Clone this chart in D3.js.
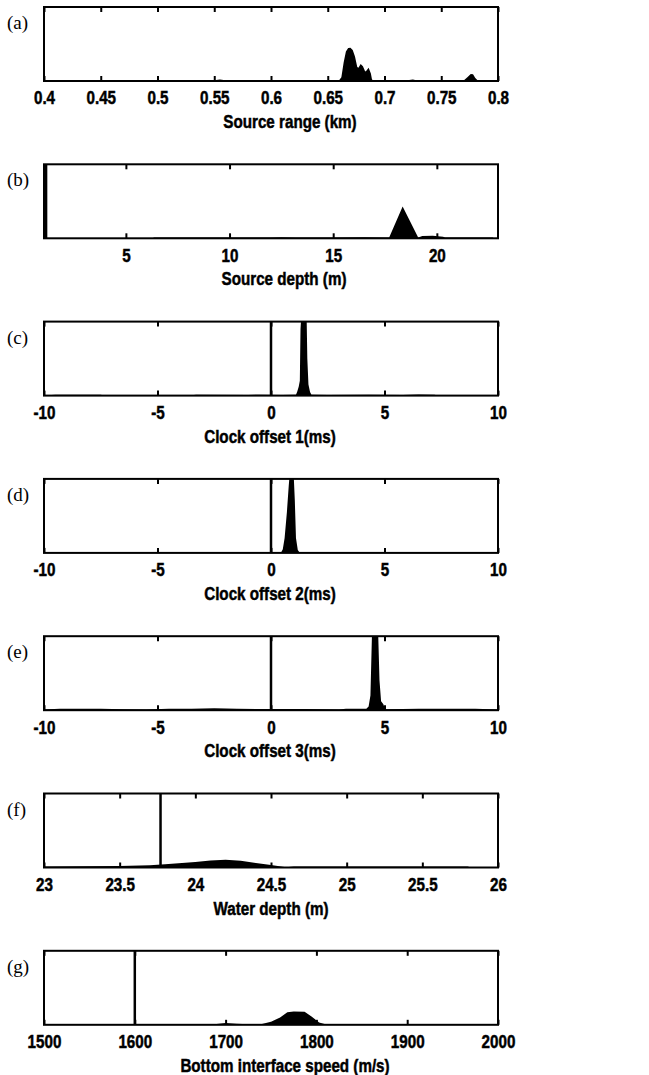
<!DOCTYPE html>
<html>
<head>
<meta charset="utf-8">
<script src="https://cdn.jsdelivr.net/npm/d3@7"></script>
<style>
  body { margin: 0; background: #fff; }
  .tick text { font-family: "Liberation Sans", Arial, sans-serif; font-weight: bold; font-size: 19px; fill: #000; stroke: #000; stroke-width: 0.5px; }
  .title { font-family: "Liberation Sans", Arial, sans-serif; font-weight: bold; font-size: 19px; stroke: #000; stroke-width: 0.5px; }
  .tag { font-family: "Liberation Serif", serif; font-size: 19px; }
</style>
</head>
<body>
<svg id="chart" width="649" height="1075"></svg>
<script>
// posterior densities (normalised, 1 = top of the box)

const tags = ["(a)", "(b)", "(c)", "(d)", "(e)", "(f)", "(g)"];
const titles = ["Source range (km)", "Source depth (m)", "Clock offset 1(ms)", "Clock offset 2(ms)",
                "Clock offset 3(ms)", "Water depth (m)", "Bottom interface speed (m/s)"];

const domains = [[0.4, 0.8], [1.05, 22.95], [-10, 10], [-10, 10], [-10, 10], [23, 26], [1500, 2000]];
const tickVals = [
  [0.4, 0.45, 0.5, 0.55, 0.6, 0.65, 0.7, 0.75, 0.8],
  [5, 10, 15, 20],
  [-10, -5, 0, 5, 10],
  [-10, -5, 0, 5, 10],
  [-10, -5, 0, 5, 10],
  [23, 23.5, 24, 24.5, 25, 25.5, 26],
  [1500, 1600, 1700, 1800, 1900, 2000]
];
// true values (vertical lines), null where none
const markers = [null, 1.15, 0, 0, 0, 23.77, 1600];

const rangeX = [0.50, 0.505, 0.52, 0.53, 0.55, 0.555, 0.56, 0.565, 0.60, 0.62, 0.64, 0.650, 0.655, 0.660, 0.662, 0.664, 0.666, 0.668, 0.670, 0.672, 0.674, 0.676, 0.677, 0.679, 0.681, 0.683, 0.684, 0.686, 0.688, 0.689, 0.690, 0.695, 0.72, 0.725, 0.728, 0.73, 0.77, 0.773, 0.776, 0.778, 0.780, 0.782, 0.79, 0.80];
const rangeP = [0, 0.01, 0.01, 0.015, 0.01, 0.02, 0.01, 0.015, 0.01, 0.012, 0.01, 0.015, 0.01, 0.01, 0.05, 0.25, 0.40, 0.445, 0.45, 0.42, 0.33, 0.19, 0.18, 0.23, 0.2, 0.13, 0.14, 0.18, 0.1, 0.02, 0.01, 0.01, 0.01, 0.02, 0.01, 0.01, 0.01, 0.05, 0.094, 0.09, 0.04, 0.01, 0.01, 0.01];

const depthX = [1.05, 6.3, 6.35, 10, 12, 12.5, 13.2, 15, 16.5, 17.5, 17.7, 18.35, 19.1, 19.3, 19.8, 20.3, 20.4, 22.7, 22.75];
const depthP = [0, 0, 0.012, 0.012, 0.01, 0.015, 0.01, 0.012, 0.015, 0.012, 0.01, 0.43, 0.01, 0.03, 0.035, 0.02, 0.012, 0.012, 0];

const clock1X = [-10, -9.5, -7.5, -7.4, -3.5, -3.3, -1.0, -0.5, 0.5, 1.10, 1.15, 1.22, 1.27, 1.30, 1.33, 1.57, 1.60, 1.65, 1.72, 1.78, 2.5, 4.3, 5.8, 6.5, 7.2, 7.3, 10];
const clock1P = [0, 0.012, 0.012, 0.005, 0.005, 0.012, 0.008, 0.012, 0.008, 0.01, 0.05, 0.12, 0.2, 0.9, 1.05, 1.05, 0.5, 0.15, 0.05, 0.01, 0.008, 0.01, 0.008, 0.015, 0.012, 0.005, 0.005];

const clock2X = [-10, -8, -6, -3, -1, -0.2, 0.45, 0.52, 0.6, 0.7, 0.78, 0.82, 1.0, 1.05, 1.1, 1.18, 1.25, 3, 6, 8.5, 10];
const clock2P = [0.005, 0.008, 0.006, 0.008, 0.01, 0.008, 0.01, 0.05, 0.2, 0.55, 0.9, 1.05, 1.05, 0.7, 0.2, 0.04, 0.008, 0.008, 0.008, 0.01, 0.005];

const clock3X = [-10, -9.3, -7.5, -6.5, -5.5, -4.5, -3.5, -2.5, -1.5, -0.5, 0.5, 1.5, 3.0, 3.3, 4.2, 4.3, 4.38, 4.45, 4.72, 4.78, 4.85, 4.95, 5.02, 5.1, 6.5, 9, 10];
const clock3P = [0.01, 0.018, 0.018, 0.012, 0.01, 0.02, 0.02, 0.025, 0.02, 0.015, 0.015, 0.015, 0.01, 0.02, 0.02, 0.05, 0.2, 1.05, 1.05, 0.4, 0.12, 0.08, 0.02, 0.012, 0.018, 0.018, 0.01];

const waterX = [23.0, 23.5, 23.7, 23.8, 24.0, 24.1, 24.2, 24.3, 24.4, 24.5, 24.6, 24.65, 25.0, 25.5, 25.8, 25.82, 26];
const waterP = [0.015, 0.02, 0.03, 0.045, 0.075, 0.095, 0.105, 0.09, 0.06, 0.035, 0.005, 0.015, 0.015, 0.015, 0.015, 0, 0];

const speedX = [1500, 1605, 1610, 1660, 1690, 1700, 1712, 1725, 1740, 1750, 1760, 1768, 1775, 1787, 1795, 1803, 1810, 1850, 1900, 1960, 1995, 2000];
const speedP = [0, 0, 0.01, 0.01, 0.012, 0.025, 0.015, 0.008, 0.012, 0.04, 0.1, 0.17, 0.18, 0.175, 0.11, 0.03, 0.008, 0.008, 0.008, 0.008, 0.003, 0];

const seriesX = [rangeX, depthX, clock1X, clock2X, clock3X, waterX, speedX];
const seriesP = [rangeP, depthP, clock1P, clock2P, clock3P, waterP, speedP];

// layout
const left = 44, right = 498, boxH = 74, top0 = 7, step = 157.3;
const titleDx = [19, 13, -1, -1, -1, 0, 14];

const svg = d3.select("#chart");
svg.append("rect").attr("width", 649).attr("height", 1075).attr("fill", "#fff");

const fmt = d => String(+d.toFixed(2));

tags.forEach((tag, i) => {
  const top = top0 + i * step;
  const bottom = top + boxH;
  const x = d3.scaleLinear().domain(domains[i]).range([left, right]);
  const y = d3.scaleLinear().domain([0, 1]).range([bottom, top]);

  const g = svg.append("g");
  const clipId = "clip" + i;
  g.append("clipPath").attr("id", clipId)
    .append("rect").attr("x", left).attr("y", top).attr("width", right - left).attr("height", boxH);

  const pts = seriesX[i].map((v, j) => [v, seriesP[i][j]]);
  const area = d3.area().x(d => x(d[0])).y0(bottom).y1(d => y(d[1]));
  g.append("path").datum(pts)
    .attr("clip-path", `url(#${clipId})`)
    .attr("d", area)
    .attr("fill", "#000");

  if (markers[i] !== null) {
    g.append("line")
      .attr("x1", x(markers[i])).attr("x2", x(markers[i]))
      .attr("y1", top).attr("y2", bottom)
      .attr("stroke", "#000").attr("stroke-width", 2.5);
  }

  // bottom axis, ticks pointing in
  const xb = g.append("g").attr("transform", `translate(0,${bottom})`)
    .call(d3.axisBottom(x).tickValues(tickVals[i]).tickFormat(fmt).tickSizeInner(-5).tickSizeOuter(0).tickPadding(10));
  xb.select(".domain").remove();
  xb.selectAll(".tick line").attr("stroke-width", 2);
  xb.selectAll(".tick text").attr("transform", "scale(0.8,1)");

  const xt = g.append("g").attr("transform", `translate(0,${top})`)
    .call(d3.axisTop(x).tickValues(tickVals[i]).tickFormat("").tickSizeInner(-5).tickSizeOuter(0));
  xt.select(".domain").remove();
  xt.selectAll(".tick line").attr("stroke-width", 2);

  g.append("rect")
    .attr("x", left).attr("y", top).attr("width", right - left).attr("height", boxH)
    .attr("fill", "none").attr("stroke", "#000").attr("stroke-width", 2);

  g.append("text").attr("class", "tag")
    .attr("x", 7).attr("y", top + 22)
    .text(tag);

  g.append("g")
    .attr("transform", `translate(${(left + right) / 2 + titleDx[i]},${bottom + 47})`)
    .append("text").attr("class", "title")
    .attr("text-anchor", "middle")
    .attr("transform", "scale(0.8,1)")
    .text(titles[i]);
});
</script>
</body>
</html>
